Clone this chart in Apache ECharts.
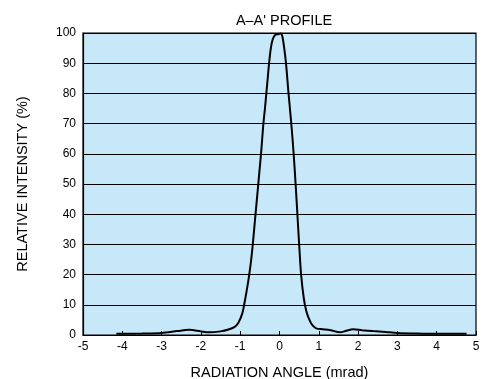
<!DOCTYPE html>
<html>
<head>
<meta charset="utf-8">
<script src="https://cdn.jsdelivr.net/npm/echarts@6/dist/echarts.min.js"></script>
<style>html,body{margin:0;padding:0;background:#fff;}#c{width:484px;height:379px;}</style>
</head>
<body>
<div id="c"></div>
<script>
var titleText = "A\u2013A' PROFILE";
var xAxisName = "RADIATION ANGLE (mrad)";
var yAxisName = "RELATIVE INTENSITY (%)";
var angle = [-4.15,-3.5,-3.0,-2.6,-2.3,-2.0,-1.8,-1.5,-1.3,-1.15,-1.05,-0.95,-0.9,-0.83,-0.77,-0.72,-0.68,-0.645,-0.61,-0.575,-0.54,-0.505,-0.47,-0.44,-0.41,-0.37,-0.335,-0.30,-0.265,-0.22,-0.17,-0.10,-0.03,0.03,0.07,0.12,0.165,0.23,0.30,0.36,0.41,0.455,0.50,0.55,0.62,0.68,0.73,0.80,0.88,0.95,1.1,1.3,1.54,1.7,1.87,2.1,2.38,2.7,3.0,3.5,4.0,4.76];
var intensity = [0.4,0.5,0.7,1.3,1.7,1.2,0.9,1.2,1.8,2.6,4,7,10,15,20,25,30,35,40,45,50,55,60,65,70,75,80,85,90,95,98,99.5,99.6,99.8,99,95,90,80,70,60,50,40,30,20,12,8,6,4,2.7,2.1,1.9,1.6,0.9,1.4,1.9,1.6,1.3,1.0,0.7,0.5,0.4,0.4];
var xTicks = {min:-5, max:5, step:1};
var yTicks = {min:0, max:100, step:10};

var data = angle.map(function(a,i){return [a, intensity[i]];});
var font = "'Liberation Sans', Arial, Helvetica, sans-serif";
var chart = echarts.init(document.getElementById('c'), null, {renderer:'canvas'});
chart.setOption({
  animation:false,
  backgroundColor:'#ffffff',
  title:{text:titleText, left:279, top:8, textAlign:'center',
    textStyle:{fontFamily:font, fontSize:14.5, fontWeight:'normal', color:'#000'}},
  grid:{left:83, right:8, top:33, bottom:44, outerBoundsMode:'none', containLabel:false,
    show:true, backgroundColor:'#c6e8f9', borderColor:'#000', borderWidth:1.2},
  xAxis:{type:'value', min:xTicks.min, max:xTicks.max, interval:xTicks.step,
    name:xAxisName, nameLocation:'middle', nameGap:30,
    nameTextStyle:{fontFamily:font, fontSize:14.5, color:'#000'},
    axisLine:{show:true, onZero:false, lineStyle:{color:'#000', width:1.2}},
    axisTick:{show:true, inside:true, length:4, lineStyle:{color:'#000'}},
    axisLabel:{fontFamily:font, fontSize:12, color:'#000', margin:6},
    splitLine:{show:false}},
  yAxis:{type:'value', min:yTicks.min, max:yTicks.max, interval:yTicks.step,
    name:yAxisName, nameLocation:'middle', nameGap:53, nameRotate:90,
    nameTextStyle:{fontFamily:font, fontSize:14.5, color:'#000'},
    axisLine:{show:true, onZero:false, lineStyle:{color:'#000', width:1.2}},
    axisTick:{show:true, inside:true, length:4, lineStyle:{color:'#000'}},
    axisLabel:{fontFamily:font, fontSize:12, color:'#000', margin:7},
    splitLine:{show:true, lineStyle:{color:'#000', width:1}}},
  series:[{type:'line', data:data, smooth:0.3, showSymbol:false, symbol:'none',
    lineStyle:{color:'#000', width:2}}]
});
</script>
</body>
</html>
